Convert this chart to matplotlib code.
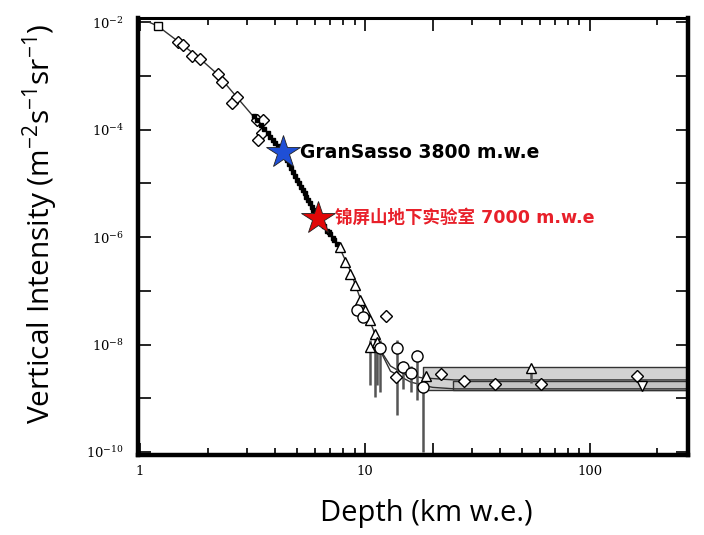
import math
import matplotlib
matplotlib.use('Agg')
from matplotlib import pyplot as plt
from matplotlib.ticker import FixedLocator, FuncFormatter, NullFormatter

# --------------------------- Data ---------------------------

# theoretical curve (depth in km w.e., vertical intensity)
curve_x = [1.1, 1.2, 1.5, 1.85, 2.2, 2.7, 3.3, 4.3, 5.1, 6.2, 7.7, 8.6, 9.5, 10.9, 11.5]
curve_y = [1.0e-2, 8.5e-3, 4.2e-3, 2.1e-3, 1.1e-3, 4.0e-4, 1.5e-4, 3.8e-5, 9.5e-6,
           2.3e-6, 6.5e-7, 2.4e-7, 7.6e-8, 1.9e-8, 9e-9]
upper_x = [11.5, 13, 15, 18, 25, 273]
upper_y = [9e-9, 4e-9, 2.8e-9, 2.4e-9, 2.2e-9, 2.2e-9]
lower_x = [11.5, 13, 16, 20, 25, 273]
lower_y = [9e-9, 3.2e-9, 2.0e-9, 1.6e-9, 1.5e-9, 1.5e-9]

# flat neutrino-induced bands
band_outer = {'x0': 18.1, 'x1': 273, 'y0': 1.4e-9, 'y1': 3.8e-9}
band_inner = {'x0': 24.6, 'x1': 273, 'y0': 1.4e-9, 'y1': 2.1e-9}

square_x = [1.2]
square_y = [8.5e-3]

diamond_x = [1.48, 1.55, 1.70, 1.85, 2.22, 2.31, 2.56, 2.70, 3.31, 3.52, 3.48, 3.35,
             12.4, 13.7, 21.8, 27.5, 37.8, 61, 162]
diamond_y = [4.3e-3, 3.7e-3, 2.4e-3, 2.1e-3, 1.07e-3, 7.6e-4, 3.2e-4, 4.0e-4, 1.5e-4,
             1.5e-4, 8.6e-5, 6.3e-5, 3.4e-8, 2.5e-9, 2.8e-9, 2.1e-9, 1.85e-9, 1.85e-9, 2.6e-9]

dot_x = [3.2, 3.3, 3.45, 3.55, 3.7, 3.8, 3.9, 4.0, 4.1, 4.2, 4.35, 4.5, 4.6, 4.7, 4.8,
         4.9, 5.0, 5.1, 5.2, 5.3, 5.4, 5.5, 5.6, 5.7, 5.8, 5.9, 6.0, 6.2, 6.4, 6.6,
         6.8, 6.9, 7.0, 7.2, 7.3, 7.5]
dot_y = [1.8e-4, 1.5e-4, 1.2e-4, 1.05e-4, 8.5e-5, 7.3e-5, 6.5e-5, 5.6e-5, 4.9e-5, 4.4e-5,
         3.6e-5, 2.7e-5, 2.3e-5, 1.9e-5, 1.6e-5, 1.4e-5, 1.17e-5, 1.0e-5, 8.7e-6, 7.5e-6,
         6.6e-6, 5.6e-6, 4.9e-6, 4.3e-6, 3.7e-6, 3.2e-6, 2.9e-6, 2.2e-6, 1.9e-6, 1.6e-6,
         1.3e-6, 1.23e-6, 1.12e-6, 9.5e-7, 8.7e-7, 7.4e-7]

tri_x = [7.74, 8.15, 8.58, 9.03, 9.5, 10.0, 10.5, 11.1, 10.5, 11.3, 18.7, 54.7]
tri_y = [6.5e-7, 3.4e-7, 2.1e-7, 1.3e-7, 6.8e-8, 4.4e-8, 2.9e-8, 1.6e-8, 9e-9, 1.1e-8,
         2.6e-9, 3.7e-9]
tri_lo = [6.5e-7, 3.4e-7, 2.1e-7, 1.3e-7, 6.8e-8, 4.4e-8, 2.9e-8, 1.05e-9, 1.77e-9, 1.77e-9,
          2.0e-9, 1.9e-9]
tri_hi = [6.5e-7, 3.4e-7, 2.1e-7, 1.3e-7, 6.8e-8, 4.4e-8, 2.9e-8, 1.6e-8, 1.2e-8, 1.1e-8,
          2.6e-9, 3.7e-9]

invtri_x = [170]
invtri_y = [1.7e-9]

circle_x = [9.2, 9.8, 11.7, 13.9, 17.0, 14.8, 16.0, 18.1]
circle_y = [4.4e-8, 3.2e-8, 8.6e-9, 8.8e-9, 6.1e-9, 3.8e-9, 3.0e-9, 1.6e-9]
circle_lo = [4.4e-8, 3.2e-8, 1.3e-9, 4.9e-10, 9.3e-10, 1.5e-9, 1.3e-9, 1e-10]
circle_hi = [4.4e-8, 3.2e-8, 1.2e-8, 1.2e-8, 7.9e-9, 5.0e-9, 4.0e-9, 2.7e-9]

labs = [('GranSasso 3800 m.w.e', 4.32, 3.8e-5, '#1f4fd6', 'black', 13.5),
        ('锦屏山地下实验室 7000 m.w.e', 6.18, 2.3e-6, '#e00808', '#e8202a', 12.6)]

# --------------------------- Plot ---------------------------

plt.rcParams['mathtext.fontset'] = 'custom'
plt.rcParams['mathtext.rm'] = 'Open Sans'

fig = plt.figure(figsize=(7.04, 5.35), dpi=100)
ax = fig.add_axes([0.196, 0.1495, 0.781, 0.8165])
ax.set_xscale('log')
ax.set_yscale('log')
ax.set_xlim(0.98, 273)
ax.set_ylim(8.8e-11, 1.19e-2)

# bands
ax.fill_between([band_outer['x0'], band_outer['x1']], band_outer['y0'], band_outer['y1'],
                facecolor='#d2d2d2', edgecolor='#333333', linewidth=1.0, zorder=1)
ax.fill_between([band_inner['x0'], band_inner['x1']], band_inner['y0'], band_inner['y1'],
                facecolor='#c4c4c4', edgecolor='#333333', linewidth=1.0, zorder=1)

# curves
ax.plot(curve_x, curve_y, color='#333333', lw=1.0, zorder=2)
ax.plot(upper_x, upper_y, color='#333333', lw=1.0, zorder=2)
ax.plot(lower_x, lower_y, color='#333333', lw=1.0, zorder=2)

# error bars
ax.vlines(tri_x, tri_lo, tri_hi, color='#555555', lw=1.8, zorder=2)
ax.vlines(circle_x, circle_lo, circle_hi, color='#555555', lw=1.8, zorder=2)

mk = dict(markerfacecolor='white', markeredgecolor='black', markeredgewidth=1.0,
          linestyle='none', zorder=3)
ax.plot(square_x, square_y, marker='s', markersize=6, **mk)
ax.plot(diamond_x, diamond_y, marker='D', markersize=6, **mk)
ax.plot(dot_x, dot_y, marker='s', markersize=3.5, color='black', linestyle='none', zorder=3)
ax.plot(tri_x, tri_y, marker='^', markersize=7, **mk)
ax.plot(invtri_x, invtri_y, marker='v', markersize=7, **mk)
ax.plot(circle_x, circle_y, marker='o', markersize=8, **mk)

# stars and labels
for text, sx, sy, star_col, text_col, fs in labs:
    ax.plot([sx], [sy], marker='*', markersize=25, color=star_col,
            markeredgecolor='#222222', markeredgewidth=0.6, zorder=5)
    ax.annotate(text, (sx, sy), xytext=(12, 0), textcoords='offset points',
                va='center', ha='left', fontsize=fs, fontweight='bold', color=text_col,
                family=['DejaVu Sans', 'Noto Sans CJK SC'], zorder=6)

# axes styling
for side in ['left', 'bottom', 'right']:
    ax.spines[side].set_linewidth(3.2)
ax.spines['top'].set_linewidth(2.2)

ax.yaxis.set_major_locator(FixedLocator([10.0 ** k for k in range(-10, -1)]))
ax.yaxis.set_minor_locator(FixedLocator([]))
ax.yaxis.set_major_formatter(FuncFormatter(
    lambda v, p: '$\\mathdefault{10^{%d}}$' % round(math.log10(v))
    if round(math.log10(v)) % 2 == 0 else ''))

ax.xaxis.set_major_locator(FixedLocator([1, 10, 20, 100]))
ax.xaxis.set_major_formatter(FuncFormatter(lambda v, p: '' if v == 20 else '%d' % v))
minor_x = [2, 3, 4, 5, 6, 7, 8, 9, 30, 40, 50, 60, 70, 80, 90, 200]
ax.xaxis.set_minor_locator(FixedLocator(minor_x))
ax.xaxis.set_minor_formatter(NullFormatter())

ax.tick_params(which='both', direction='in', top=True, right=True, width=1.2, color='black')
ax.tick_params(which='major', length=9)
ax.tick_params(which='minor', length=5)
ax.tick_params(axis='y', pad=10)
ax.tick_params(axis='x', pad=7)
for lab in ax.get_xticklabels() + ax.get_yticklabels():
    lab.set_family('DejaVu Serif')
    lab.set_fontsize(9.5)

ax.set_xlabel('Depth (km w.e.)', fontsize=21, family='Open Sans')
ax.xaxis.set_label_coords(0.525, -0.1)
ax.set_ylabel('Vertical Intensity ($\\mathdefault{m^{-2}s^{-1}sr^{-1}}$)', fontsize=21.5,
              family='Open Sans')
ax.yaxis.set_label_coords(-0.142, 0.53)

fig.savefig('out.png', dpi=100)
